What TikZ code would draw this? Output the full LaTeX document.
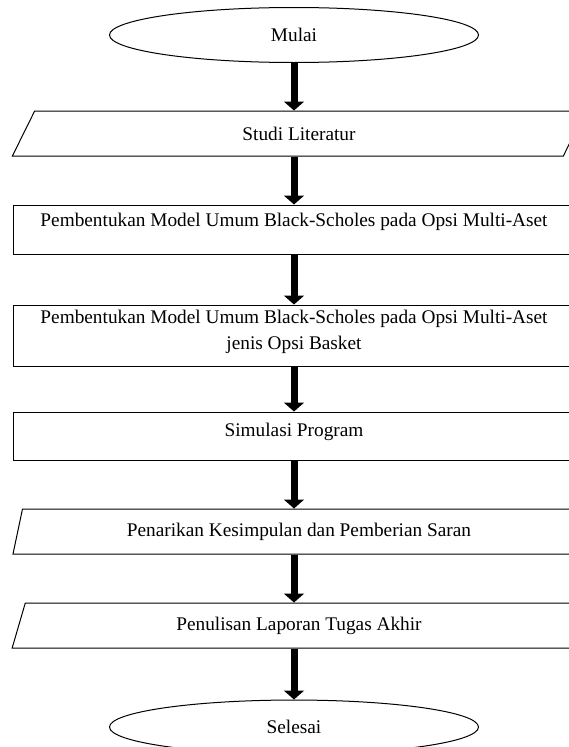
\documentclass[tikz,border=0pt]{standalone}
\usepackage{fontspec}
\setmainfont{Liberation Serif}
\usetikzlibrary{arrows.meta,shapes.geometric,positioning}

\begin{document}
\begin{tikzpicture}[
    x=1pt, y=1pt,
    font=\fontsize{19.3pt}{26pt}\selectfont,
    terminal/.style={draw, ellipse, minimum width=369pt, minimum height=55pt, line width=1pt},
    io/.style={draw, trapezium, trapezium left angle=76, trapezium right angle=104, trapezium stretches=true, minimum width=574pt, minimum height=45pt, xshift=5pt, line width=1pt},
    process/.style={draw, rectangle, minimum width=562pt, inner ysep=0pt, align=center, line width=1pt},
    arrow/.style={-{Triangle[width=20pt,length=9pt]}, line width=7pt}
]
    \useasboundingbox (0,0) rectangle (568,-747);

    % Start
    \node [terminal] (mulai) at (294,-35) {Mulai};

    % Steps
    \node [io, below=47.5pt of mulai] (studi) {Studi Literatur};
    \node [process, text height=21.5pt, text depth=27.5pt, below=48pt of studi.south -| mulai.south, anchor=north] (modelumum) {Pembentukan Model Umum Black-Scholes pada Opsi Multi-Aset};
    \node [process, text height=44.5pt, text depth=16.5pt, below=50pt of modelumum] (modelbasket) {Pembentukan Model Umum Black-Scholes pada Opsi Multi-Aset\\jenis Opsi Basket};
    \node [process, text height=24.5pt, text depth=23.5pt, below=45pt of modelbasket] (simulasi) {Simulasi Program};
    \node [io, below=48pt of simulasi] (kesimpulan) {Penarikan Kesimpulan dan Pemberian Saran};
    \node [io, below=48pt of kesimpulan.south -| simulasi.south, anchor=north] (laporan) {Penulisan Laporan Tugas Akhir};

    % End
    \node [terminal, minimum height=54pt, below=51pt of laporan.south -| simulasi.south, anchor=north] (selesai) {Selesai};

    % Arrows
    \draw [arrow] (mulai) -- (mulai |- studi.north);
    \draw [arrow] (mulai |- studi.south) -- (modelumum);
    \draw [arrow] (modelumum) -- (modelbasket);
    \draw [arrow] (modelbasket) -- (simulasi);
    \draw [arrow] (simulasi) -- (simulasi |- kesimpulan.north);
    \draw [arrow] (simulasi |- kesimpulan.south) -- (simulasi |- laporan.north);
    \draw [arrow] (simulasi |- laporan.south) -- (selesai);

\end{tikzpicture}
\end{document}
